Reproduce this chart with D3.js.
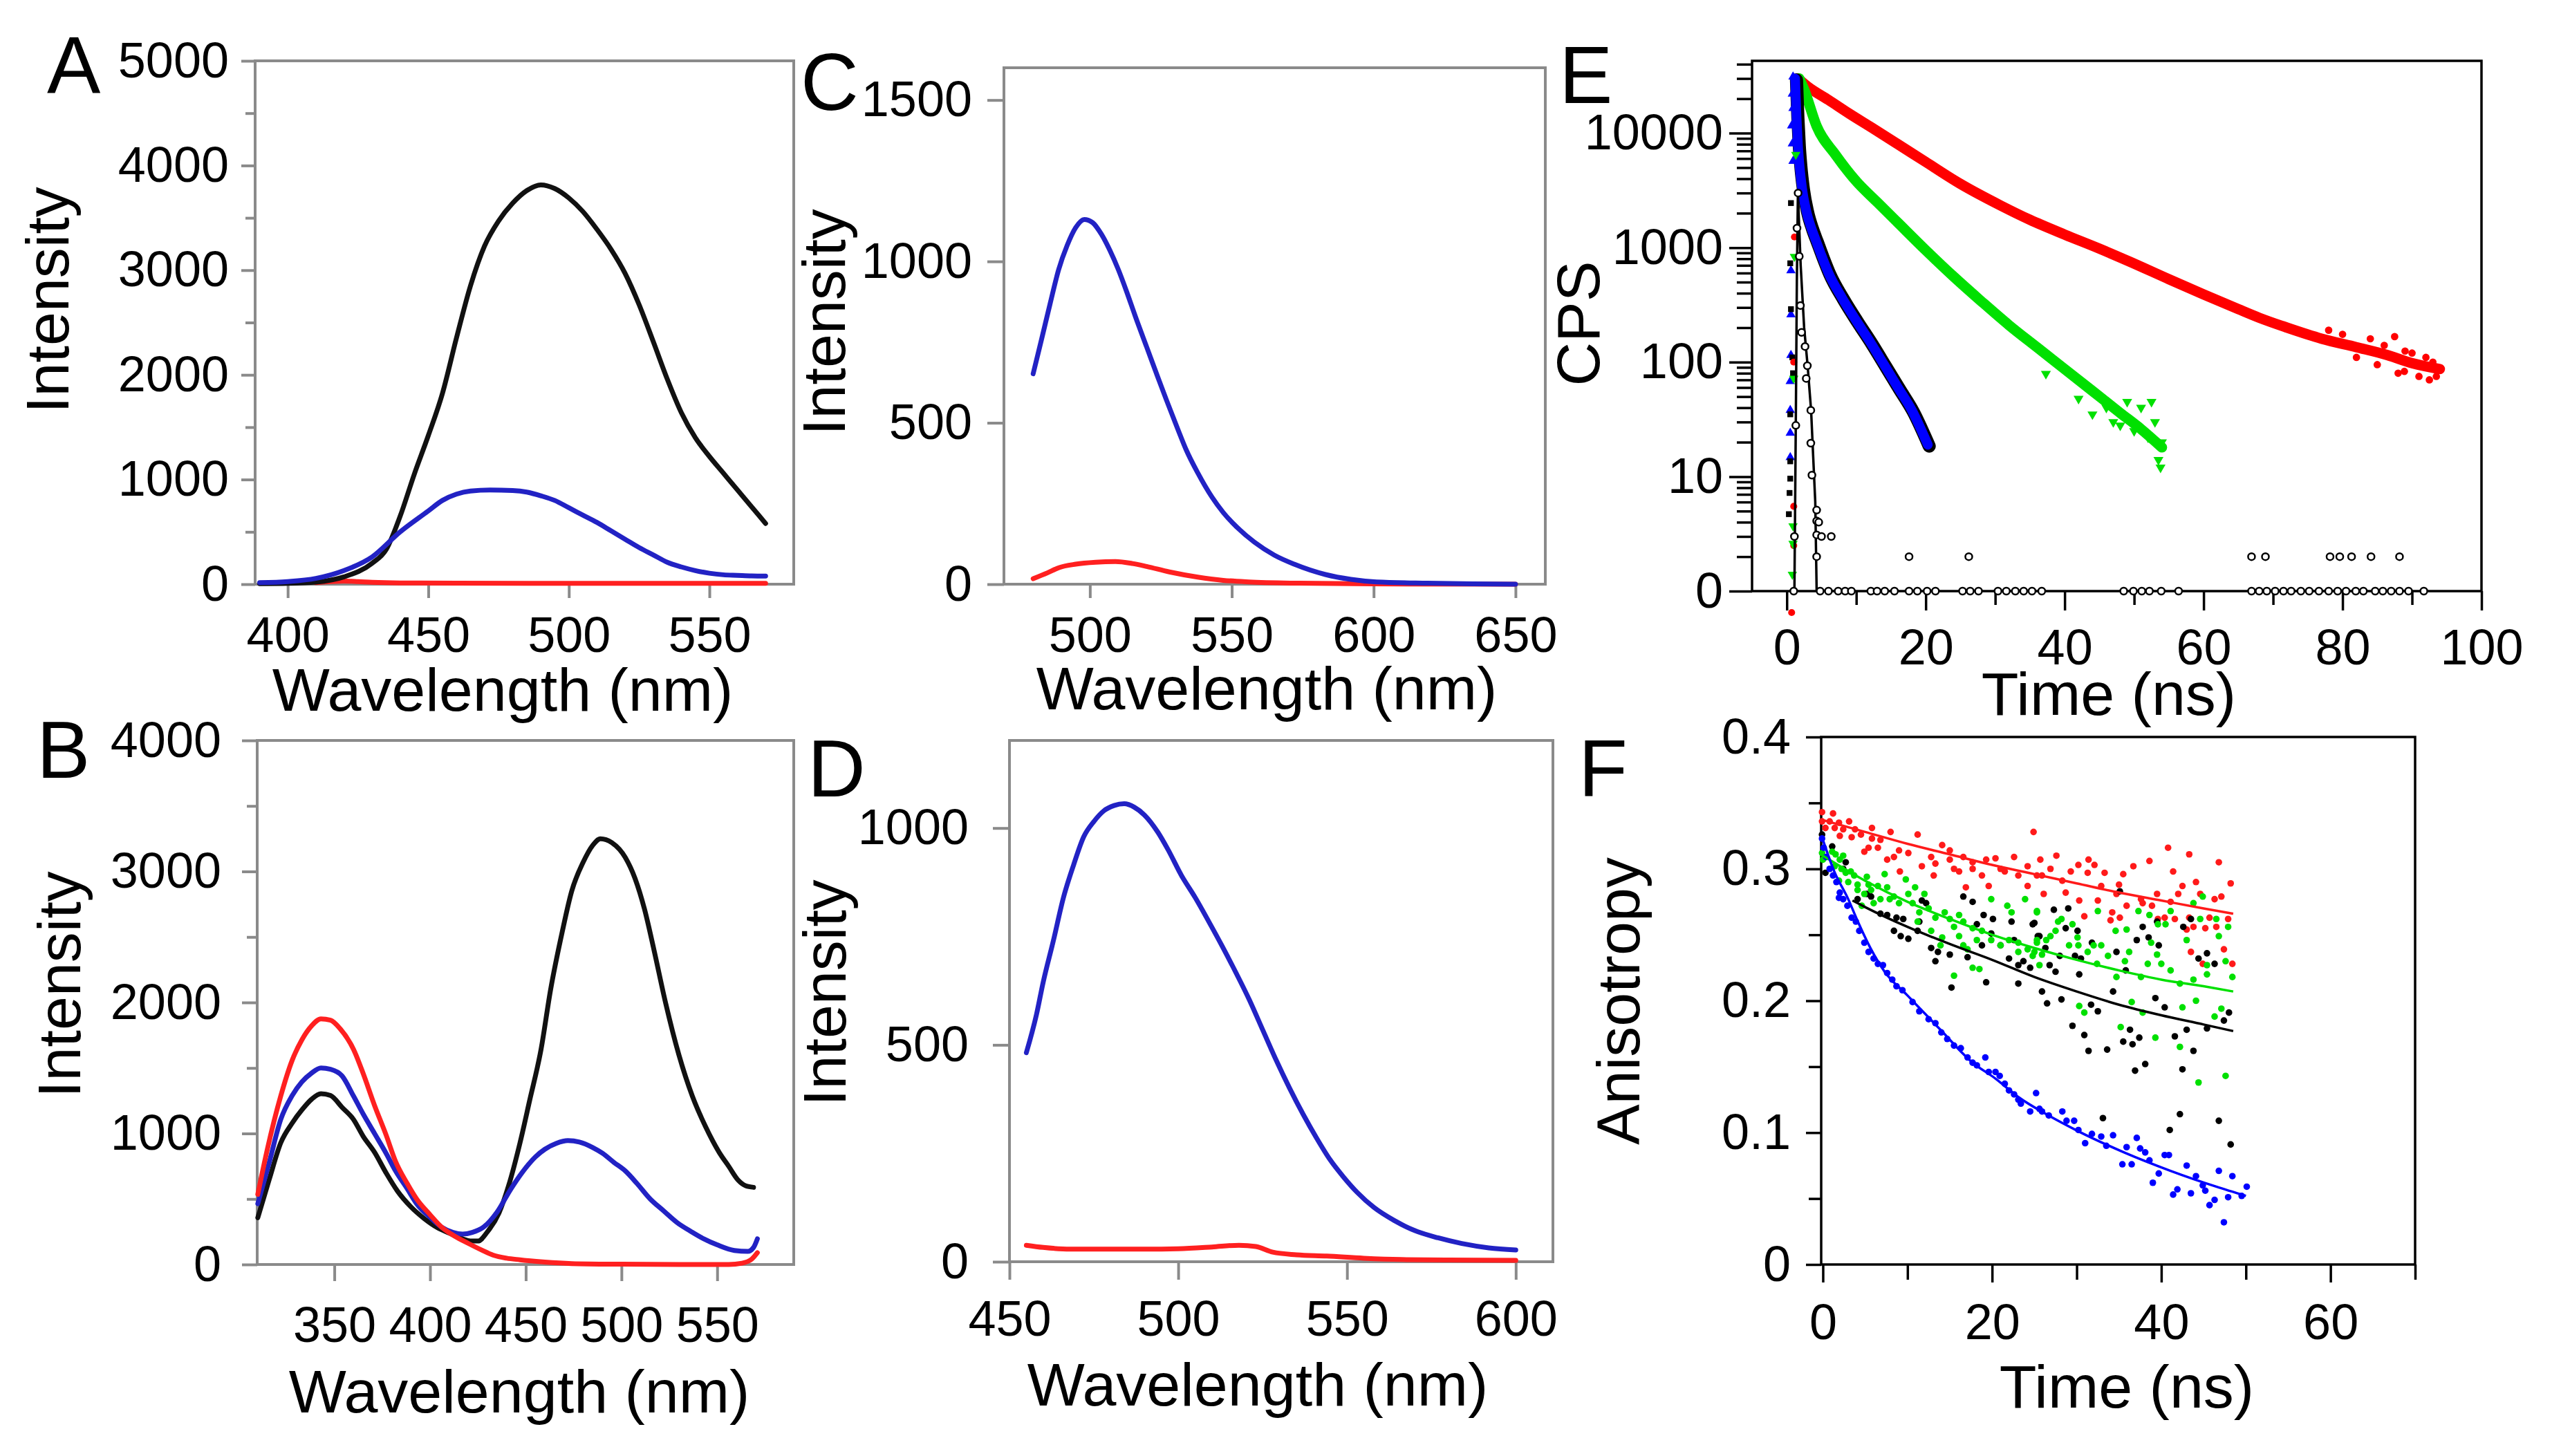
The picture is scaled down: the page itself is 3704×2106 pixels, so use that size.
<!DOCTYPE html>
<html>
<head>
<meta charset="utf-8">
<script src="https://cdn.jsdelivr.net/npm/d3@7"></script>
<style>
  html, body { margin: 0; padding: 0; background: #fff; }
  svg { display: block; }
</style>
</head>
<body>
<svg id="fig" width="3704" height="2106"></svg>
<script>
// ---------- data ----------
// panel A : emission spectra  [wavelength nm, intensity]
var aBlack = [[390,5],[400,8],[410,20],[420,70],[430,200],[435,330],[440,650],[445,1050],[450,1420],[455,1820],[460,2350],[465,2850],[470,3230],[475,3470],[480,3640],[485,3760],[490,3815],[495,3780],[500,3690],[505,3560],[510,3390],[515,3200],[520,2970],[525,2670],[530,2320],[535,1960],[540,1640],[545,1400],[550,1220],[555,1060],[560,900],[565,740],[570,580]];
var aBlue = [[390,15],[400,25],[410,55],[420,130],[430,260],[440,500],[450,700],[455,800],[460,860],[465,890],[472,900],[480,895],[485,880],[490,845],[495,800],[500,730],[505,660],[510,590],[515,510],[520,430],[525,350],[530,280],[535,210],[540,165],[545,130],[550,105],[555,90],[560,85],[565,80],[570,78]];
var aRed = [[410,15],[415,25],[420,30],[425,25],[430,18],[440,12],[460,10],[500,8],[540,8],[570,8]];

// panel B
var bRed = [[310,536],[315,880],[322,1286],[328,1560],[333,1714],[338,1820],[343,1875],[348,1865],[353,1800],[360,1643],[365,1460],[371,1214],[377,990],[382,786],[388,620],[393,500],[400,380],[406,286],[413,215],[420,161],[427,110],[433,71],[440,48],[447,36],[460,18],[474,7],[500,2],[530,0],[556,0],[563,10],[568,40],[571,90]];
var bBlue = [[310,464],[316,780],[322,1107],[328,1290],[333,1393],[338,1460],[343,1500],[348,1490],[354,1440],[360,1286],[365,1150],[371,1000],[377,850],[382,714],[388,580],[393,464],[400,360],[406,286],[412,245],[417,232],[422,245],[428,286],[435,400],[442,571],[448,700],[455,821],[460,880],[466,925],[472,946],[478,935],[485,893],[490,850],[496,780],[502,714],[508,620],[515,500],[522,410],[529,321],[536,255],[543,196],[550,150],[559,107],[566,100],[569,130],[571,196]];
var bBlack = [[310,357],[316,650],[322,929],[328,1080],[333,1179],[338,1260],[343,1304],[348,1290],[354,1200],[360,1107],[365,980],[371,857],[377,700],[383,560],[390,440],[397,350],[404,280],[410,240],[417,196],[421,180],[425,179],[430,250],[436,393],[441,600],[447,929],[452,1250],[458,1643],[463,2100],[469,2536],[474,2850],[480,3071],[485,3200],[489,3250],[495,3220],[502,3107],[507,2950],[512,2714],[517,2400],[523,2000],[530,1600],[537,1286],[544,1050],[551,857],[556,750],[561,643],[565,600],[569,589]];

// panel C
var cBlue = [[480,652],[483,760],[486,870],[489,975],[492,1050],[495,1105],[498,1130],[501,1120],[504,1085],[507,1035],[510,975],[513,905],[516,830],[520,735],[524,640],[527,570],[531,480],[534,415],[538,345],[543,270],[547,222],[552,175],[558,130],[565,90],[572,62],[583,30],[592,15],[601,7],[619,3],[635,1],[650,0]];
var cRed = [[480,17],[485,35],[489,51],[495,62],[502,68],[509,70],[515,64],[520,55],[528,38],[538,22],[547,12],[556,7],[574,3],[600,1],[650,0]];

// panel D
var dBlue = [[455,482],[458,570],[460,645],[463,740],[466,840],[469,915],[472,980],[475,1015],[478,1040],[481,1052],[484,1056],[487,1048],[490,1030],[494,990],[497,950],[501,890],[505,840],[509,785],[513,728],[517,668],[521,605],[525,535],[529,465],[533,400],[537,340],[541,285],[545,235],[549,195],[553,160],[558,125],[564,95],[570,72],[577,55],[584,42],[592,32],[600,27]];
var dRed = [[455,38],[460,33],[468,29],[480,29],[490,29],[500,30],[510,34],[518,38],[523,35],[528,22],[535,16],[544,13],[555,8],[566,5],[580,4],[600,3]];

// panel E : decays [time ns, counts]
var eRed = [[1.6,30000],[3,25500],[6,19500],[9,14800],[12.2,11200],[16,8000],[20,5600],[25,3600],[30.8,2330],[35,1750],[40,1300],[45,980],[49.4,753],[55,530],[60,390],[65,290],[68,244],[72,200],[77,160],[82,135],[86.5,115],[90,98],[94,87]];
var eRedTail = [[78,190],[80,175],[82,110],[84,160],[85,95],[86,140],[87.5,167],[88,80],[88.9,83],[89,125],[90,120],[91,75],[92,110],[92.5,70],[93,100],[93.5,75]];
var eGreen = [[1.8,30000],[2.5,24000],[4.3,11500],[7,6500],[10,3800],[13,2500],[16,1650],[20,950],[24,560],[28,340],[32,210],[36,135],[40,87],[44,56],[48,36],[51,26],[54,18]];
var eGreenTail = [[37.3,79],[42,48],[44,35],[46,40],[47,30],[48,28],[49,45],[50,25],[51,40],[52,22],[52.5,45],[53,30],[53.5,14],[54,20],[53.8,12]];
var eBlue = [[1.2,30000],[1.4,14000],[1.6,8000],[1.8,5500],[2.2,3300],[2.8,2100],[3.5,1500],[4.2,1150],[5,850],[6,600],[8,360],[10,230],[12,150],[14,95],[16,60],[18,38],[20.3,19]];
var eIrfLine = [[1.1,1],[1.3,30],[1.45,500],[1.6,3000],[2.0,700],[2.5,200],[3.0,93],[3.5,38],[3.8,15],[4.1,6],[4.3,1]];
var eIrf = [[1.0,1],[1.1,3],[1.3,28],[1.47,1480],[1.63,3000],[1.8,840],[1.96,312],[2.13,182],[2.63,137],[2.8,72],[2.96,93],[3.46,38],[3.46,19.6],[3.62,10.3],[4.3,5.1],[4.3,4.1],[4.3,3.1],[4.3,2],[5.0,3],[6.4,3],[4.6,4],
  [17.6,2],[26.2,2],[66.9,2],[68.9,2],[78.2,2],[79.6,2],[81.3,2],[84.1,2],[88.2,2],
  [4.8,0],[6.0,0],[7.4,0],[8.4,0],[9.3,0],[12.1,0],[13.0,0],[14.1,0],[15.5,0],[17.6,0],[18.8,0],[20.2,0],[21.4,0],[25.3,0],[26.4,0],[27.6,0],[30.4,0],[31.6,0],[32.9,0],[34.1,0],[35.3,0],[36.7,0],[48.5,0],[49.9,0],[51.1,0],[52.2,0],[53.9,0],[56.4,0],[66.9,0],[68.0,0],[69.1,0],[70.3,0],[71.5,0],[72.6,0],[74.0,0],[75.2,0],[76.6,0],[78.0,0],[79.3,0],[80.5,0],[81.9,0],[83.0,0],[84.7,0],[85.8,0],[87.0,0],[88.2,0],[89.5,0],[91.7,0]];
var eEdgeBlue = [[0.9,31000],[0.8,22000],[0.9,16500],[0.7,11600],[0.8,8100],[0.9,5700],[0.6,630],[0.6,260],[0.6,115],[0.5,68],[0.5,38],[0.5,24],[0.5,14.7]];
var eEdgeBlack = [[0.6,2450],[0.5,730],[0.6,290],[0.8,110],[0.9,80],[0.5,35],[0.5,13.6],[0.5,9.6],[0.4,7.2],[0.3,4.7]];
var eEdgeRed = [[1.1,1240],[1.0,100],[1.0,5.5],[1.0,2.5],[0.7,0.65]];
var eEdgeGreen = [[1.3,6500],[1.1,835],[1.0,72],[0.9,3.7],[0.9,2.6],[0.8,1.4]];

// panel F : anisotropy [time ns, r]
var fRed = [[-0.1,0.343],[1.2,0.342],[-0.1,0.336],[0.8,0.336],[1.9,0.335],[3.1,0.336],[0.3,0.331],[1.4,0.331],[2.4,0.330],[3.8,0.330],[2.0,0.325],[3.4,0.324],[4.5,0.326],[5.8,0.331],[8.0,0.328],[11.2,0.326],[5.8,0.323],[6.8,0.322],[4.9,0.313],[5.4,0.316],[7.6,0.307],[8.4,0.309],[6.5,0.316],[9.0,0.314],[10.1,0.312],[9.1,0.298],[11.7,0.302],[12.8,0.309],[13.3,0.304],[13.1,0.295],[14.1,0.318],[15.0,0.314],[15.5,0.300],[16.6,0.309],[17.7,0.305],[18.8,0.295],[16.9,0.286],[19.6,0.287],[19.3,0.307],[20.4,0.308],[22.6,0.309],[21.5,0.298],[23.1,0.295],[24.2,0.302],[24.9,0.328],[25.7,0.307],[25.9,0.295],[26.1,0.281],[24.2,0.287],[16.1,0.298],[15.0,0.307],[17.7,0.300],[21.0,0.300],
  [27.6,0.310],[25.3,0.295],[26.9,0.300],[28.3,0.291],[30.2,0.303],[31.4,0.307],[32.1,0.303],[31.3,0.297],[29.3,0.298],[28.7,0.282],[30.3,0.276],[30.9,0.264],[32.5,0.276],[33.3,0.297],[32.9,0.287],[34.2,0.267],[34.0,0.261],[35.1,0.263],[35.0,0.288],[35.5,0.296],[36.7,0.302],[35.9,0.272],[34.7,0.281],[37.6,0.277],[37.8,0.274],[38.6,0.306],[40.8,0.316],[41.4,0.298],[39.5,0.281],[38.9,0.272],[39.6,0.262],[40.4,0.263],[41.1,0.275],[42.0,0.281],[42.5,0.287],[43.3,0.311],[44.1,0.290],[44.6,0.281],[43.0,0.254],[43.5,0.237],[41.6,0.262],[43.3,0.263],[43.8,0.256],[45.2,0.255],[45.7,0.263],[46.3,0.277],[47.1,0.279],[46.8,0.305],[48.2,0.289],[47.9,0.262],[46.5,0.256],[47.4,0.239],[44.9,0.228],[48.4,0.228]];
var fRedFit = [[0,0.337],[5,0.328],[10,0.319],[15,0.311],[20,0.303],[25,0.296],[30,0.289],[35,0.282],[40,0.276],[45,0.270],[48.5,0.266]];
var fGreen = [[-0.1,0.312],[0,0.307],[1.1,0.313],[1.5,0.311],[2.0,0.307],[2.4,0.310],[1.4,0.302],[2.2,0.300],[2.7,0.297],[3.3,0.298],[3.7,0.295],[1.9,0.291],[3.0,0.290],[4.1,0.288],[5.2,0.294],[5.4,0.288],[4.1,0.284],[4.9,0.281],[5.7,0.284],[6.5,0.287],[7.3,0.296],[7.6,0.286],[6.8,0.277],[4.6,0.272],[6.0,0.274],[7.9,0.277],[8.4,0.279],[9.8,0.292],[9.0,0.274],[10.1,0.281],[10.9,0.286],[12.0,0.281],[10.6,0.274],[11.4,0.267],[12.5,0.270],[13.3,0.263],[14.4,0.267],[15.0,0.262],[16.1,0.265],[11.2,0.260],[12.8,0.253],[14.1,0.248],[15.5,0.256],[16.6,0.260],[17.7,0.255],[18.8,0.253],[19.9,0.277],[21.8,0.272],[22.3,0.267],[23.9,0.277],[25.3,0.267],[18.2,0.246],[19.9,0.246],[21.0,0.242],[22.0,0.246],[23.1,0.244],[24.2,0.239],[25.3,0.244],[25.9,0.235],[24.8,0.234],[23.1,0.237],[17.7,0.225],[18.5,0.224],[15.5,0.219],[16.6,0.242],[13.9,0.242],[16.1,0.249],[17.1,0.239],
  [25.3,0.268],[25.0,0.237],[25.6,0.227],[25.3,0.246],[26.4,0.246],[27.8,0.260],[28.2,0.262],[27.5,0.253],[26.9,0.249],[29.5,0.258],[30.1,0.248],[29.1,0.242],[30.2,0.242],[31.3,0.237],[32.0,0.242],[32.9,0.242],[32.5,0.268],[32.4,0.228],[33.7,0.234],[34.6,0.253],[35.9,0.254],[36.2,0.237],[35.7,0.230],[34.7,0.218],[37.3,0.268],[38.6,0.265],[39.5,0.235],[40.0,0.228],[38.4,0.228],[38.8,0.244],[39.6,0.258],[41.1,0.268],[40.5,0.258],[43.0,0.246],[43.8,0.274],[44.9,0.279],[44.6,0.262],[45.4,0.220],[46.8,0.249],[46.5,0.262],[47.9,0.256],[48.4,0.218],[45.4,0.227],[47.6,0.230],[43.8,0.216],[41.1,0.223],[42.2,0.213],[37.6,0.218],
  [30.3,0.196],[30.9,0.191],[35.2,0.180],[39.3,0.172],[42.2,0.165],[44.4,0.138],[47.6,0.143],[36.5,0.199],[37.8,0.191],[42.5,0.195],[44.1,0.200],[47.1,0.194],[46.3,0.188]];
var fGreenFit = [[0,0.310],[5,0.291],[10,0.275],[15,0.262],[20,0.250],[25,0.240],[30,0.231],[35,0.223],[40,0.216],[45,0.211],[48.5,0.207]];
var fBlack = [[-0.1,0.326],[0.3,0.297],[1.1,0.317],[2.7,0.305],[2.4,0.300],[4.1,0.277],[5.2,0.281],[5.7,0.279],[6.8,0.266],[7.6,0.265],[8.7,0.263],[9.5,0.262],[8.4,0.253],[9.2,0.249],[10.1,0.247],[11.2,0.253],[11.7,0.276],[12.2,0.274],[11.4,0.260],[12.8,0.240],[13.6,0.237],[15.0,0.235],[13.3,0.230],[15.2,0.210],[16.6,0.279],[17.7,0.275],[18.2,0.258],[19.0,0.265],[20.1,0.262],[19.9,0.251],[18.8,0.242],[17.1,0.233],[19.3,0.214],[21.0,0.242],[22.3,0.260],[22.6,0.246],[23.1,0.227],[23.1,0.213],[24.8,0.258],[25.6,0.249],[25.9,0.207],[22.0,0.232],[23.7,0.230],[24.5,0.225],
  [27.3,0.269],[29.0,0.270],[25.0,0.259],[25.4,0.249],[28.7,0.255],[30.1,0.253],[26.3,0.240],[28.0,0.234],[29.8,0.234],[30.5,0.232],[26.8,0.227],[27.5,0.222],[30.3,0.220],[31.8,0.244],[34.7,0.237],[35.1,0.283],[35.8,0.223],[34.3,0.207],[37.8,0.256],[37.1,0.246],[38.5,0.248],[39.7,0.242],[39.5,0.260],[42.6,0.256],[43.5,0.262],[44.4,0.232],[46.3,0.228],[45.4,0.236],
  [26.5,0.198],[28.2,0.201],[31.7,0.197],[32.5,0.192],[29.5,0.181],[30.9,0.174],[31.4,0.162],[33.6,0.163],[36.3,0.178],[35.5,0.169],[37.4,0.172],[36.6,0.167],[38.1,0.152],[36.9,0.147],[39.3,0.202],[40.4,0.195],[41.6,0.173],[43.0,0.178],[43.8,0.162],[42.5,0.148],[42.2,0.114],[41.0,0.102],[33.1,0.111],[46.8,0.109],[48.2,0.091],[48.0,0.191],[47.4,0.185],[45.4,0.179]];
var fBlackFit = [[3.5,0.276],[5,0.271],[10,0.256],[15,0.243],[20,0.231],[25,0.218],[30,0.207],[35,0.197],[40,0.189],[45,0.182],[48.5,0.177]];
var fBlue = [[-0.1,0.323],[0.1,0.316],[0.4,0.309],[0.8,0.300],[1.2,0.295],[1.6,0.290],[2.0,0.282],[2.4,0.277],[2.9,0.272],[3.4,0.263],[3.9,0.260],[4.3,0.253],[4.9,0.244],[5.4,0.237],[6.0,0.232],[6.5,0.228],[7.1,0.227],[7.6,0.221],[8.2,0.216],[8.7,0.211],[9.4,0.208],[1.9,0.278],
  [10.6,0.199],[11.4,0.192],[12.5,0.186],[13.3,0.183],[14.0,0.176],[14.7,0.171],[15.5,0.166],[16.3,0.164],[17.1,0.157],[17.7,0.153],[18.2,0.151],[19.2,0.157],[19.6,0.146],[20.4,0.146],[20.9,0.143],[21.5,0.137],[22.0,0.132],[22.6,0.129],[23.1,0.125],[23.4,0.122],[24.5,0.116],[25.2,0.130],[25.9,0.116],
  [25.6,0.118],[26.7,0.113],[28.3,0.116],[28.8,0.109],[29.7,0.109],[30.2,0.102],[31.0,0.092],[31.8,0.099],[32.9,0.097],[34.3,0.098],[33.5,0.090],[35.4,0.076],[35.9,0.089],[36.5,0.076],[37.1,0.096],[37.5,0.088],[38.1,0.085],[38.6,0.079],[39.7,0.069],[39.0,0.062],[40.4,0.083],[40.9,0.083],[41.4,0.053],[41.9,0.057],[43.0,0.075],[43.5,0.054],[44.1,0.067],[44.9,0.060],[45.2,0.056],[45.7,0.045],[46.3,0.049],[46.8,0.071],[47.9,0.051],[48.4,0.067],[49.5,0.052],[50.1,0.059],[47.4,0.032]];
var fBlueFit = [[0,0.322],[1.35,0.298],[3,0.277],[4,0.262],[5.7,0.239],[7.3,0.222],[10,0.204],[13.9,0.178],[17.7,0.153],[20.4,0.141],[23.1,0.127],[26.4,0.114],[30.2,0.101],[35.6,0.085],[41.1,0.071],[46.5,0.059],[50,0.052]];

// tick values and labels
var aYTicks = [0,1000,2000,3000,4000,5000], aYMinor = [500,1500,2500,3500,4500], aXTicks = [400,450,500,550];
var bYTicks = [0,1000,2000,3000,4000], bYMinor = [500,1500,2500,3500], bXTicks = [350,400,450,500,550];
var cYTicks = [0,500,1000,1500], cXTicks = [500,550,600,650];
var dYTicks = [0,500,1000], dXTicks = [450,500,550,600];
var eYTicks = [1,10,100,1000,10000], eYLabels = ["0","10","100","1000","10000"];
var eXTicks = [0,20,40,60,80,100], eXMinor = [10,30,50,70,90];
var fYTicks = [0,0.1,0.2,0.3,0.4], fYLabels = ["0","0.1","0.2","0.3","0.4"], fYMinor = [0.05,0.15,0.25,0.35];
var fXTicks = [0,20,40,60], fXMinor = [10,30,50,70];

// ---------- drawing ----------
var FAMILY = "'Liberation Sans', Arial, Helvetica, sans-serif";
var TICK_FS = 72, TITLE_FS = 88, LETTER_FS = 116;
var svg = d3.select("#fig");
svg.append("rect").attr("width", 3704).attr("height", 2106).attr("fill", "#fff");

function cleanAxis(sel, color, lw) {
    sel.select(".domain").remove();
    sel.attr("font-family", FAMILY).attr("font-size", TICK_FS);
    sel.selectAll("line").attr("stroke", color).attr("stroke-width", lw);
    sel.selectAll("text").attr("fill", "#000");
}

function panel(c) {
    var b = c.box;
    var x = d3.scaleLinear().domain(c.xDomain).range([b.left, b.right]);
    var y = (c.log ? d3.scaleLog() : d3.scaleLinear()).domain(c.yDomain).range([b.bottom, b.top]);
    var g = svg.append("g");

    // minor ticks
    if (c.yMinor) {
        g.append("g").attr("transform", "translate(" + b.left + ",0)")
            .call(d3.axisLeft(y).tickValues(c.yMinor).tickSize(c.yMinorLen).tickFormat(""))
            .call(cleanAxis, c.color, c.lw);
    }
    if (c.xMinor) {
        g.append("g").attr("transform", "translate(0," + b.bottom + ")")
            .call(d3.axisBottom(x).tickValues(c.xMinor).tickSize(c.xMinorLen).tickFormat(""))
            .call(cleanAxis, c.color, c.lw);
    }
    // major ticks + labels
    g.append("g").attr("transform", "translate(" + b.left + ",0)")
        .call(d3.axisLeft(y).tickValues(c.yTicks).tickSize(c.yTickLen).tickPadding(c.yPad)
            .tickFormat(function(d, i) { return c.yLabels ? c.yLabels[i] : String(d); }))
        .call(cleanAxis, c.color, c.lw);
    g.append("g").attr("transform", "translate(0," + b.bottom + ")")
        .call(d3.axisBottom(x).tickValues(c.xTicks).tickSize(c.xTickLen).tickPadding(c.xPad)
            .tickFormat(function(d, i) { return c.xLabels ? c.xLabels[i] : String(d); }))
        .call(cleanAxis, c.color, c.lw);

    // frame
    g.append("rect")
        .attr("x", b.left).attr("y", b.top)
        .attr("width", b.right - b.left).attr("height", b.bottom - b.top)
        .attr("fill", "none").attr("stroke", c.color).attr("stroke-width", c.lw);

    // titles
    g.append("text").attr("x", c.xTitle[0]).attr("y", c.xTitle[1])
        .attr("text-anchor", "middle").attr("font-family", FAMILY).attr("font-size", TITLE_FS)
        .text(c.xTitleText);
    g.append("text")
        .attr("transform", "translate(" + c.yTitle[0] + "," + c.yTitle[1] + ") rotate(-90)")
        .attr("text-anchor", "middle").attr("font-family", FAMILY).attr("font-size", TITLE_FS)
        .text(c.yTitleText);
    g.append("text").attr("x", c.letter[0]).attr("y", c.letter[1])
        .attr("font-family", FAMILY).attr("font-size", LETTER_FS)
        .text(c.letterText);

    return {g: g, x: x, y: y};
}

function spectrum(p, data, color, w) {
    p.g.append("path").datum(data)
        .attr("fill", "none").attr("stroke", color).attr("stroke-width", w || 7)
        .attr("stroke-linejoin", "round").attr("stroke-linecap", "round")
        .attr("d", d3.line().x(function(d) { return p.x(d[0]); })
                            .y(function(d) { return p.y(d[1]); })
                            .curve(d3.curveMonotoneX));
}

var GRAY = "#8a8a8a";
var SBLUE = "#2222c4", SRED = "#ff2020", SBLACK = "#111";

// --- A ---
var pA = panel({
    box: {left: 369, right: 1148, top: 88, bottom: 845},
    xDomain: [388.4, 580], yDomain: [0, 5000],
    yTicks: aYTicks, yMinor: aYMinor, yTickLen: 20, yMinorLen: 14, yPad: 18,
    xTicks: aXTicks, xTickLen: 20, xPad: 27,
    color: GRAY, lw: 4,
    xTitle: [727, 1028], xTitleText: "Wavelength (nm)",
    yTitle: [99, 434], yTitleText: "Intensity",
    letter: [68, 135], letterText: "A"
});
spectrum(pA, aRed, SRED);
spectrum(pA, aBlack, SBLACK);
spectrum(pA, aBlue, SBLUE);

// --- B ---
var pB = panel({
    box: {left: 372, right: 1148, top: 1071, bottom: 1829},
    xDomain: [309.7, 590], yDomain: [0, 4000],
    yTicks: bYTicks, yMinor: bYMinor, yTickLen: 22, yMinorLen: 15, yPad: 30,
    xTicks: bXTicks, xTickLen: 24, xPad: 37,
    color: GRAY, lw: 4,
    xTitle: [751, 2043], xTitleText: "Wavelength (nm)",
    yTitle: [116, 1424], yTitleText: "Intensity",
    letter: [53, 1125], letterText: "B"
});
spectrum(pB, bBlack, SBLACK);
spectrum(pB, bBlue, SBLUE);
spectrum(pB, bRed, SRED);

// --- C ---
var pC = panel({
    box: {left: 1452, right: 2235, top: 98, bottom: 845},
    xDomain: [469.7, 660.5], yDomain: [0, 1600],
    yTicks: cYTicks, yTickLen: 24, yPad: 22,
    xTicks: cXTicks, xTickLen: 20, xPad: 27,
    color: GRAY, lw: 4,
    xTitle: [1832, 1026], xTitleText: "Wavelength (nm)",
    yTitle: [1222, 466], yTitleText: "Intensity",
    letter: [1158, 159], letterText: "C"
});
spectrum(pC, cRed, SRED);
spectrum(pC, cBlue, SBLUE);

// --- D ---
var pD = panel({
    box: {left: 1460, right: 2246, top: 1071, bottom: 1825},
    xDomain: [450, 611], yDomain: [0, 1202],
    yTicks: dYTicks, yTickLen: 24, yPad: 35,
    xTicks: dXTicks, xTickLen: 26, xPad: 30,
    color: GRAY, lw: 4,
    xTitle: [1819, 2033], xTitleText: "Wavelength (nm)",
    yTitle: [1223, 1436], yTitleText: "Intensity",
    letter: [1168, 1152], letterText: "D"
});
spectrum(pD, dRed, SRED);
spectrum(pD, dBlue, SBLUE);

// --- E : log decays ---
var eMinor = [];
[1, 10, 100, 1000, 10000].forEach(function(dec) {
    for (var k = 2; k <= 9; k++) if (dec * k <= 42000) eMinor.push(dec * k);
});
var pE = panel({
    box: {left: 2534, right: 3589, top: 88, bottom: 855},
    xDomain: [-5, 100], yDomain: [1, 42800], log: true,
    yTicks: eYTicks, yLabels: eYLabels, yMinor: eMinor, yTickLen: 33, yMinorLen: 22, yPad: 9,
    xTicks: eXTicks, xMinor: eXMinor, xTickLen: 28, xMinorLen: 20, xPad: 27,
    color: "#000", lw: 3.5,
    xTitle: [3050, 1034], xTitleText: "Time (ns)",
    yTitle: [2313, 468], yTitleText: "CPS",
    letter: [2255, 149], letterText: "E"
});
function ey(v) { return pE.y(v <= 0 ? 1 : v); }
function band(data, color, w) {
    return pE.g.append("path").datum(data)
        .attr("fill", "none").attr("stroke", color).attr("stroke-width", w)
        .attr("stroke-linejoin", "round").attr("stroke-linecap", "round")
        .attr("d", d3.line().x(function(d) { return pE.x(d[0]); })
                            .y(function(d) { return ey(d[1]); })
                            .curve(d3.curveMonotoneX));
}
function marks(g, data, xs, yf, color, shape, size, rot) {
    g.selectAll(null).data(data).enter().append("path")
        .attr("d", d3.symbol().type(shape).size(size))
        .attr("transform", function(d) {
            return "translate(" + xs(d[0]) + "," + yf(d[1]) + ")" + (rot ? " rotate(" + rot + ")" : "");
        })
        .attr("fill", color);
}
band(eRed, "#ff0000", 15);
marks(pE.g, eRedTail, pE.x, ey, "#ff0000", d3.symbolCircle, 90);
band(eGreen, "#00e000", 15);
marks(pE.g, eGreenTail, pE.x, ey, "#00e000", d3.symbolTriangle, 90, 180);
band(eBlue, "#000", 19).attr("transform", "translate(2,2)");
band(eBlue, "#0000ff", 14);
marks(pE.g, eEdgeBlue, pE.x, ey, "#0000ff", d3.symbolTriangle, 80);
marks(pE.g, eEdgeBlack, pE.x, ey, "#000", d3.symbolSquare, 70);
marks(pE.g, eEdgeRed, pE.x, ey, "#ff0000", d3.symbolCircle, 80);
marks(pE.g, eEdgeGreen, pE.x, ey, "#00e000", d3.symbolTriangle, 80, 180);
pE.g.append("path").datum(eIrfLine)
    .attr("fill", "none").attr("stroke", "#000").attr("stroke-width", 3.5)
    .attr("d", d3.line().x(function(d) { return pE.x(d[0]); }).y(function(d) { return ey(d[1]); }));
pE.g.selectAll(null).data(eIrf).enter().append("circle")
    .attr("cx", function(d) { return pE.x(d[0]); })
    .attr("cy", function(d) { return ey(d[1]); })
    .attr("r", 5).attr("fill", "#fff").attr("stroke", "#000").attr("stroke-width", 2.5);

// --- F : anisotropy ---
var pF = panel({
    box: {left: 2634, right: 3493, top: 1066, bottom: 1829},
    xDomain: [-0.2, 70], yDomain: [0, 0.4],
    yTicks: fYTicks, yLabels: fYLabels, yMinor: fYMinor, yTickLen: 22, yMinorLen: 18, yPad: 22,
    xTicks: fXTicks, xMinor: fXMinor, xTickLen: 26, xMinorLen: 22, xPad: 31,
    color: "#000", lw: 3.5,
    xTitle: [3076, 2036], xTitleText: "Time (ns)",
    yTitle: [2371, 1448], yTitleText: "Anisotropy",
    letter: [2283, 1152], letterText: "F"
});
function dots(data, color) {
    pF.g.selectAll(null).data(data).enter().append("circle")
        .attr("cx", function(d) { return pF.x(d[0]); })
        .attr("cy", function(d) { return pF.y(d[1]); })
        .attr("r", 4.8).attr("fill", color);
}
function fit(data, color) {
    pF.g.append("path").datum(data)
        .attr("fill", "none").attr("stroke", color).attr("stroke-width", 3.5)
        .attr("d", d3.line().x(function(d) { return pF.x(d[0]); })
                            .y(function(d) { return pF.y(d[1]); })
                            .curve(d3.curveMonotoneX));
}
dots(fRed, "#ff1a1a");
dots(fBlack, "#000");
dots(fGreen, "#00e000");
dots(fBlue, "#0000ff");
fit(fRedFit, "#ff1a1a");
fit(fBlackFit, "#000");
fit(fGreenFit, "#00e000");
fit(fBlueFit, "#0000ff");
</script>
</body>
</html>
